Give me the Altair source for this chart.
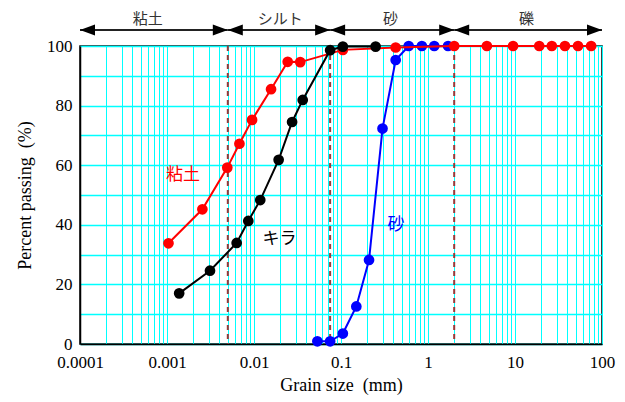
import altair as alt
import pandas as pd

# ---- data ----
clay_x = [0.00104, 0.00255, 0.00493, 0.0068, 0.0095, 0.0157, 0.0244, 0.034, 0.105, 0.425, 2.0, 4.75, 9.5, 19.0, 26.5, 37.5, 53.0, 75.0]
clay_y = [33.8, 45.2, 59.2, 67.2, 75.2, 85.5, 94.7, 94.6, 98.7, 99.5, 100, 100, 100, 100, 100, 100, 100, 100]

kira_x = [0.00138, 0.00312, 0.00632, 0.0086, 0.0118, 0.0192, 0.0274, 0.0363, 0.075, 0.105, 0.25]
kira_y = [17.0, 24.6, 33.9, 41.3, 48.3, 61.8, 74.5, 81.9, 98.6, 99.8, 99.8]

sand_x = [0.0535, 0.075, 0.105, 0.15, 0.21, 0.30, 0.425, 0.6, 0.85, 1.18, 1.7]
sand_y = [0.9, 0.9, 3.5, 12.6, 28.2, 72.3, 95.3, 100, 100, 100, 100]

# soil class boundaries (mm) and their names
class_start = [0.0001, 0.005, 0.075, 2.0]
class_end = [0.005, 0.075, 2.0, 100.0]
class_names = ["粘土", "シルト", "砂", "礫"]
class_label_x = [0.0006, 0.02, 0.37, 13.6]
boundaries = [0.005, 0.075, 2.0]

series_labels = ["粘土", "キラ", "砂"]
series_label_x = [0.00153, 0.0196, 0.43]
series_label_y = [56.7, 35.1, 40.1]
series_colors = ["#ff0000", "#000000", "#0000ff"]

x_ticks = [m * 10.0 ** e for e in range(-4, 2) for m in range(1, 10)] + [100.0]
y_ticks = list(range(0, 101, 10))

serif = "Liberation Serif"
jp = "Noto Sans CJK JP"

x_scale = alt.Scale(type="log", domain=[0.0001, 100])
y_scale = alt.Scale(domain=[0, 100])

x_axis = alt.Axis(
    values=x_ticks,
    format="~g",
    labelExpr="indexof([0.0001, 0.001, 0.01, 0.1, 1, 10, 100], datum.value) >= 0 ? datum.label : ''",
    grid=True, gridColor="#00ffff", gridWidth=1, gridOpacity=1,
    ticks=False, domainColor="#000000", domainWidth=1.5,
    labelFont=serif, labelFontSize=17, labelColor="#000000", labelPadding=10,
    labelOverlap=False, labelFlush=False, labelBound=False,
    title="Grain size\u00a0 (mm)", titleFont=serif, titleFontSize=18,
    titleFontWeight="normal", titleColor="#000000", titlePadding=6,
)
y_axis = alt.Axis(
    values=y_ticks,
    labelExpr="datum.value % 20 == 0 ? datum.label : ''",
    grid=True, gridColor="#00ffff", gridWidth=1.3, gridOpacity=1,
    ticks=False, domainColor="#000000", domainWidth=1.5,
    labelFont=serif, labelFontSize=17, labelColor="#000000", labelPadding=8,
    labelOverlap=False,
    title="Percent passing\u00a0 (%)", titleFont=serif, titleFontSize=18,
    titleFontWeight="normal", titleColor="#000000", titlePadding=12,
)

X = alt.X("x:Q", scale=x_scale, axis=x_axis)
Y = alt.Y("y:Q", scale=y_scale, axis=y_axis)

bound_df = pd.DataFrame({"x": boundaries})
dashed = alt.Chart(bound_df).mark_rule(
    color="#993838", strokeWidth=2, strokeDash=[5, 4]
).encode(x=X)

def series_layer(xs, ys, color):
    d = pd.DataFrame({"x": xs, "y": ys})
    return alt.Chart(d).mark_line(
        color=color, strokeWidth=2,
        point=alt.OverlayMarkDef(filled=True, size=115, color=color, opacity=1),
    ).encode(x=X, y=Y)

sand_layer = series_layer(sand_x, sand_y, "#0000ff")
clay_layer = series_layer(clay_x, clay_y, "#ff0000")
kira_layer = series_layer(kira_x, kira_y, "#000000")

lab_df = pd.DataFrame({"x": series_label_x, "y": series_label_y,
                       "t": series_labels, "c": series_colors})
series_text = alt.Chart(lab_df).mark_text(font=jp, fontSize=17).encode(
    x=X, y=Y, text="t:N", color=alt.Color("c:N", scale=None)
)

cls_df = pd.DataFrame({"x": class_start, "x2": class_end})
arrow_line = alt.Chart(cls_df).mark_rule(color="#222222", strokeWidth=2).encode(
    x=X, x2="x2:Q", y=alt.value(-16)
)
right_head = alt.Chart(pd.DataFrame({"x": class_end})).mark_point(
    shape="M0,0L-2,-0.72L-2,0.72Z", filled=True, size=225, color="#000000", opacity=1
).encode(x=X, y=alt.value(-16))
left_head = alt.Chart(pd.DataFrame({"x": class_start})).mark_point(
    shape="M0,0L2,-0.72L2,0.72Z", filled=True, size=225, color="#000000", opacity=1
).encode(x=X, y=alt.value(-16))
cls_text = alt.Chart(pd.DataFrame({"x": class_label_x, "t": class_names})).mark_text(
    font=jp, fontSize=15, color="#333333"
).encode(x=X, y=alt.value(-27), text="t:N")

chart = alt.layer(
    dashed, sand_layer, clay_layer, kira_layer, series_text,
    arrow_line, right_head, left_head, cls_text
).properties(
    width=522, height=298,
    padding={"left": 80, "top": 46, "right": 23, "bottom": 58},
    autosize=alt.AutoSizeParams(type="none"),
    background="white",
).configure_view(stroke="#000000", strokeWidth=1.5)

chart.save("out.html", embed_options={"renderer": "svg", "actions": False})
